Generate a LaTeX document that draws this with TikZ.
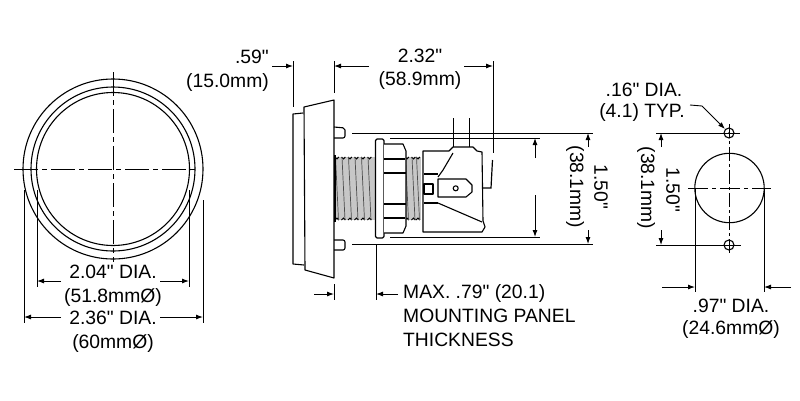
\documentclass[tikz,border=0pt]{standalone}
\usepackage{fontspec}
\newfontfamily\dimfont{Liberation Sans}
\usetikzlibrary{arrows.meta}
\tikzset{
	dimtext/.style={inner sep=0pt, font=\dimfont\fontsize{19.3}{21}\selectfont},
	dimline/.style={line width=0.9pt, -{Latex[length=7pt,width=5pt]}},
	extline/.style={line width=0.8pt},
	centreline/.style={line width=0.9pt, dash pattern=on 24pt off 4pt on 5pt off 4pt},
	outline/.style={line width=1.1pt, line join=round}
}
\def\threadrun#1#2#3{%
	\fill[black!22] (#1, 157) rectangle (#2, 220);
	\foreach \tx in {#3} {
		\draw[line width=1pt] (\tx, 157) arc (180:0:1.9) (\tx, 220) arc (180:360:1.9);
		\draw[line width=0.7pt, black!70] (\tx+0.5, 157) -- (\tx+3.5, 220);
	}
}

\begin{document}
\begin{tikzpicture}[x=1pt, y=-1pt]
	\useasboundingbox (0, 0) rectangle (800, 400);
	%%%%% START %%%%%
	% front view
	\draw[outline] (113, 169) circle (90);
	\draw[outline] (113, 169) circle (82);
	\draw[outline] (113, 169) circle (76.5);
	\draw[centreline] (14, 169) -- (197, 169);
	\draw[centreline] (113, 72) -- (113, 262);
	\draw[extline] (37, 190) -- (37, 287);
	\draw[extline] (189, 190) -- (189, 287);
	\draw[extline] (24, 190) -- (24, 323);
	\draw[extline] (203, 200) -- (203, 323);
	\node[dimtext] (inner dia) at (113, 272) {2.04" DIA.};
	\node[dimtext] (inner mm) at (113, 297) {(51.8mm\O)};
	\node[dimtext] (outer dia) at (113, 318) {2.36" DIA.};
	\node[dimtext] (outer mm) at (113, 343) {(60mm\O)};
	\draw[dimline] (61, 281) -- (37, 281);
	\draw[dimline] (160, 281) -- (189, 281);
	\draw[dimline] (61, 317) -- (24, 317);
	\draw[dimline] (160, 317) -- (203, 317);

	% side view
	\draw[outline] (304, 107) -- (334, 100) -- (334, 278) -- (305, 270) -- cycle;
	\draw[outline] (303, 113) -- (293, 114) -- (293, 264) -- (304, 265);
	\draw[outline, rounded corners=2pt] (334, 127) -- (345, 128) -- (345, 138) -- (334, 138);
	\draw[outline, rounded corners=2pt] (334, 240) -- (345, 240) -- (345, 250) -- (334, 250);
	\threadrun{335}{375}{335, 341.5, 348, 354.5, 361, 367.5}
	\threadrun{405}{421}{405, 411.5, 416}
	\draw[outline] (335, 155) -- (335, 222);
	\draw[outline, fill=white, rounded corners=1.5pt] (375.5, 139) rectangle (384, 238);
	\draw[outline, fill=white] (384, 144) -- (403, 144) -- (406, 151) -- (406, 226) -- (403, 233) -- (384, 233);
	\draw[outline] (384, 159) -- (405, 159) (384, 173) -- (406, 173);
	\draw[outline] (384, 204) -- (406, 204) (384, 218) -- (405, 218);
	\draw[outline] (423, 151) -- (449, 151) -- (453, 147) -- (473, 147) -- (477, 151) -- (482, 152)
		-- (483, 221) -- (485, 227) -- (482, 232) -- (423, 232) -- cycle;
	\draw[outline] (453, 153) -- (443, 170) -- (438, 177);
	\draw[outline] (438, 203) -- (482, 222);
	\draw[outline] (438, 179) -- (466, 179) -- (472, 185) -- (472, 192) -- (466, 197) -- (438, 197) -- cycle;
	\draw[outline] (424, 174) -- (438, 174) (424, 203) -- (438, 203);
	\draw[outline] (424, 184) rectangle (433, 194);
	\draw[outline] (455.7, 188.3) circle (2.5);
	\draw[line width=1.2pt] (453.7, 118) -- (453.7, 147);
	\draw[line width=1.2pt] (469.3, 118) -- (469.3, 147);
	\draw[line width=1.2pt] (492.5, 160) -- (491, 188) -- (483, 188);

	% side view dimensions
	\draw[extline] (293, 61) -- (293, 107);
	\draw[extline] (334, 61) -- (334, 93);
	\draw[extline] (493, 61) -- (493, 153);
	\draw[extline] (352, 133) -- (593, 133);
	\draw[extline] (390, 138) -- (540, 138);
	\draw[extline] (390, 237) -- (540, 237);
	\draw[extline] (352, 244) -- (593, 244);
	\draw[extline] (334, 284) -- (334, 300);
	\draw[extline] (376, 244) -- (376, 300);
	\node[dimtext, anchor=east] (bezel in) at (269, 57) {.59"};
	\node[dimtext, anchor=east] (bezel mm) at (269, 82) {(15.0mm)};
	\node[dimtext] (depth in) at (420, 56) {2.32"};
	\node[dimtext] (depth mm) at (420, 81) {(58.9mm)};
	\draw[dimline] (272, 66) -- (293, 66);
	\draw[dimline] (369, 66) -- (334, 66);
	\draw[dimline] (464, 66) -- (493, 66);
	\draw[dimline] (535, 158) -- (535, 138);
	\draw[dimline] (535, 195) -- (535, 237);
	\draw[dimline] (588, 147) -- (588, 133);
	\draw[dimline] (588, 230) -- (588, 244);
	\node[dimtext, rotate=-90] (stud in) at (601, 187) {1.50"};
	\node[dimtext, rotate=-90] (stud mm) at (575, 187) {(38.1mm)};
	\draw[dimline] (314, 294) -- (334, 294);
	\draw[dimline] (398, 294) -- (376, 294);
	\node[dimtext, anchor=west] (panel max) at (403, 293) {MAX. .79" (20.1)};
	\node[dimtext, anchor=west] (panel name) at (403, 316) {MOUNTING PANEL};
	\node[dimtext, anchor=west] (panel thick) at (403, 340) {THICKNESS};

	% cut-out view
	\draw[outline] (729.5, 188) circle (34.7);
	\draw[outline] (729, 133) circle (5);
	\draw[outline] (729, 245) circle (5);
	\fill (729, 133) circle (1);
	\draw[centreline, dash pattern=on 20pt off 4pt on 4pt off 4pt] (688, 188) -- (771, 188);
	\draw[centreline, dash pattern=on 14pt off 3pt on 3pt off 3pt, line width=0.6pt] (729, 124) -- (729, 256);
	\draw[extline] (656, 133) -- (740, 133);
	\draw[extline] (656, 245) -- (741, 245);
	\draw[extline] (695, 188) -- (695, 292);
	\draw[extline] (764, 188) -- (764, 292);
	\draw[dimline] (661, 147) -- (661, 133);
	\draw[dimline] (661, 230) -- (661, 245);
	\draw[dimline] (662, 287) -- (695, 287);
	\draw[dimline] (791, 287) -- (764, 287);
	\draw[dimline] (690, 105) -- (702, 106) -- (725, 129);
	\node[dimtext] (hole in) at (644, 90) {.16" DIA.};
	\node[dimtext] (hole mm) at (642, 112) {(4.1) TYP.};
	\node[dimtext, rotate=-90] (pitch in) at (673, 190) {1.50"};
	\node[dimtext, rotate=-90] (pitch mm) at (646, 188) {(38.1mm)};
	\node[dimtext] (cut dia) at (731, 306) {.97" DIA.};
	\node[dimtext] (cut mm) at (731, 329) {(24.6mm\O)};
	%%%%% END %%%%%
\end{tikzpicture}
\end{document}
